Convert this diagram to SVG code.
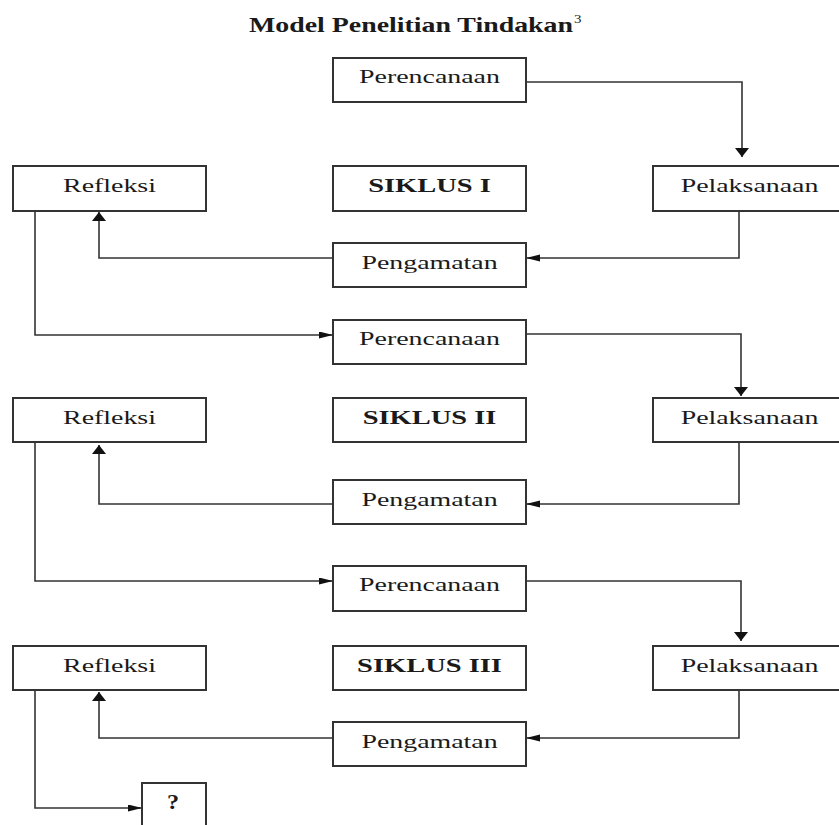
<svg xmlns="http://www.w3.org/2000/svg" width="839" height="825" viewBox="0 0 839 825">
<defs>
<style>
.box{fill:#fff;stroke:#333;stroke-width:2}
.t{font-family:"Liberation Serif","Times New Roman",serif;font-size:19.5px;fill:#1a1a1a;text-anchor:middle}
.b{font-weight:bold}
.c{fill:none;stroke:#333;stroke-width:1.6}
</style>
<marker id="ah" markerUnits="userSpaceOnUse" markerWidth="15" markerHeight="8" refX="14" refY="3.5" orient="auto" viewBox="0 0 15 8">
<path d="M0,0 L14,3.5 L0,7 z" fill="#111"/>
</marker>
<marker id="av" markerUnits="userSpaceOnUse" markerWidth="10" markerHeight="15" refX="9" refY="7" orient="auto" viewBox="0 0 10 15">
<path d="M0,0 L9,7 L0,14 z" fill="#111"/>
</marker>
</defs>
<rect width="839" height="825" fill="#fff"/>
<g id="title">
<text class="t b" transform="translate(411,32) scale(1.327,1)" style="font-size:21px">Model Penelitian Tindakan</text>
<text transform="translate(574,23) scale(1.25,1)" style="font-family:'Liberation Serif',serif;font-size:12px;fill:#1a1a1a">3</text>
</g>
<g id="connectors">
<polyline class="c" points="526,82 742,82 742,157" marker-end="url(#av)"/>
<polyline class="c" points="739,211 739,258 526,258" marker-end="url(#ah)"/>
<polyline class="c" points="333,258 99,258 99,212" marker-end="url(#av)"/>
<polyline class="c" points="35,211 35,335 333,335" marker-end="url(#ah)"/>
<polyline class="c" points="526,334 741,334 741,396" marker-end="url(#av)"/>
<polyline class="c" points="739,442 739,504 526,504" marker-end="url(#ah)"/>
<polyline class="c" points="333,504 99,504 99,445" marker-end="url(#av)"/>
<polyline class="c" points="35,442 35,581 333,581" marker-end="url(#ah)"/>
<polyline class="c" points="526,581 741,581 741,641" marker-end="url(#av)"/>
<polyline class="c" points="739,690 739,738 526,738" marker-end="url(#ah)"/>
<polyline class="c" points="333,738 99,738 99,692" marker-end="url(#av)"/>
<polyline class="c" points="35,690 35,808 142,808" marker-end="url(#ah)"/>
</g>
<g id="perencanaan1"><rect class="box" x="333" y="58" width="193" height="44"/><text class="t" transform="translate(429.5,83) scale(1.43,1)">Perencanaan</text></g>
<g id="refleksi1"><rect class="box" x="13" y="166" width="193" height="45"/><text class="t" transform="translate(109.5,192) scale(1.43,1)">Refleksi</text></g>
<g id="siklus1"><rect class="box" x="333" y="166" width="193" height="45"/><text class="t b" transform="translate(429.5,192) scale(1.46,1)">SIKLUS I</text></g>
<g id="pelaksanaan1"><rect class="box" x="653" y="166" width="193" height="45"/><text class="t" transform="translate(749.5,192) scale(1.43,1)">Pelaksanaan</text></g>
<g id="pengamatan1"><rect class="box" x="333" y="243" width="193" height="44"/><text class="t" transform="translate(429.5,269) scale(1.43,1)">Pengamatan</text></g>

<g id="perencanaan2"><rect class="box" x="333" y="320" width="193" height="44"/><text class="t" transform="translate(429.5,345) scale(1.43,1)">Perencanaan</text></g>
<g id="refleksi2"><rect class="box" x="13" y="398" width="193" height="44"/><text class="t" transform="translate(109.5,424) scale(1.43,1)">Refleksi</text></g>
<g id="siklus2"><rect class="box" x="333" y="398" width="193" height="44"/><text class="t b" transform="translate(429.5,424) scale(1.46,1)">SIKLUS II</text></g>
<g id="pelaksanaan2"><rect class="box" x="653" y="398" width="193" height="44"/><text class="t" transform="translate(749.5,424) scale(1.43,1)">Pelaksanaan</text></g>
<g id="pengamatan2"><rect class="box" x="333" y="480" width="193" height="44"/><text class="t" transform="translate(429.5,506) scale(1.43,1)">Pengamatan</text></g>

<g id="perencanaan3"><rect class="box" x="333" y="566" width="193" height="45"/><text class="t" transform="translate(429.5,591) scale(1.43,1)">Perencanaan</text></g>
<g id="refleksi3"><rect class="box" x="13" y="646" width="193" height="44"/><text class="t" transform="translate(109.5,672) scale(1.43,1)">Refleksi</text></g>
<g id="siklus3"><rect class="box" x="333" y="646" width="193" height="44"/><text class="t b" transform="translate(429.5,672) scale(1.46,1)">SIKLUS III</text></g>
<g id="pelaksanaan3"><rect class="box" x="653" y="646" width="193" height="44"/><text class="t" transform="translate(749.5,672) scale(1.43,1)">Pelaksanaan</text></g>
<g id="pengamatan3"><rect class="box" x="333" y="722" width="193" height="44"/><text class="t" transform="translate(429.5,748) scale(1.43,1)">Pengamatan</text></g>

<g id="unknown"><rect class="box" x="142" y="783" width="64" height="50"/><text class="t b" transform="translate(173,809) scale(1.15,1)" style="font-size:21px">?</text></g>
</svg>
